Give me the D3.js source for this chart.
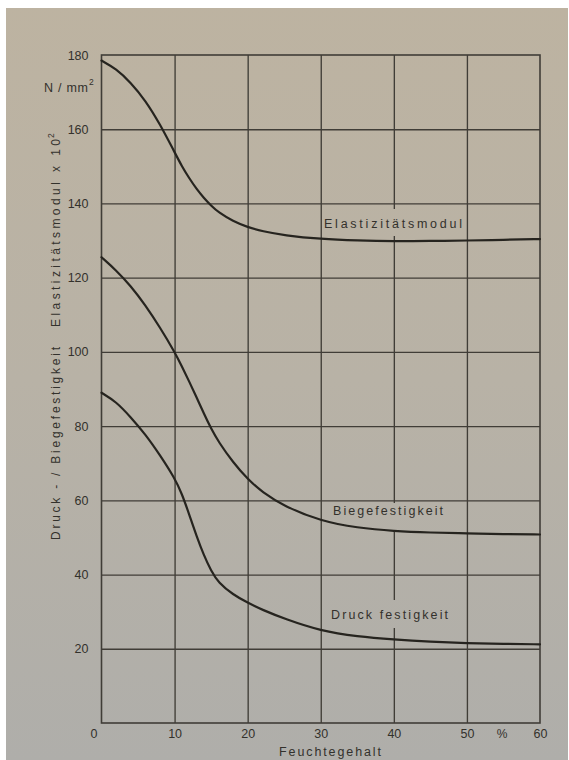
<!DOCTYPE html>
<html>
<head>
<meta charset="utf-8">
<script src="https://cdn.jsdelivr.net/npm/d3@7"></script>
<style>
  html, body { margin: 0; padding: 0; background: #ffffff; }
  svg { display: block; }
  text { font-family: "Liberation Sans", Arial, sans-serif; }
</style>
</head>
<body>
<svg id="chart" width="569" height="760"></svg>
<script>
// ---- data ----
const moisture = [0,2,4,6,8,10,11,12,13,14,15,16,18,20,22,25,30,35,40,45,50,55,60];
const eModul   = [178.5,176.3,172.6,167.8,161.4,153.8,150,146.8,143.9,141.5,139.4,137.6,135.2,133.6,132.5,131.4,130.4,130,129.8,129.9,130,130.2,130.4];
const biege    = [125.5,122,117.8,112.6,106.6,100,96.1,92,87.8,83.4,79.3,75.8,70.2,65.7,62.2,58.4,54.4,52.6,51.7,51.3,51.1,50.9,50.8];
const druck    = [89,86.6,82.4,77.8,72.2,66,61.8,56.2,50.4,45.2,41,37.8,34.6,32.4,30.5,28.1,24.8,23.3,22.5,21.9,21.5,21.3,21.2];
const xTicks = [0,10,20,30,40,50,60];
const yTicks = [20,40,60,80,100,120,140,160,180];
const seriesNames = ["Elastizitätsmodul","Biegefestigkeit","Druck festigkeit"];
const xTitle = "Feuchtegehalt";
const yTitleTop = "Elastizitätsmodul x 10";
const yTitleBottom = "Druck - / Biegefestigkeit";
const unitLabel = "N / mm";
const pctLabel = "%";

// ---- layout ----
const svg = d3.select("#chart");
const x = d3.scaleLinear().domain([0,60]).range([101.5,540]);
const y = d3.scaleLinear().domain([0,180]).range([723,55]);

const defs = svg.append("defs");
const grad = defs.append("linearGradient").attr("id","paper")
  .attr("gradientUnits","userSpaceOnUse").attr("x1",0).attr("y1",0).attr("x2",0).attr("y2",760);
grad.append("stop").attr("offset","0").attr("stop-color","#bdb3a1");
grad.append("stop").attr("offset","0.5").attr("stop-color","#b8b2a6");
grad.append("stop").attr("offset","1").attr("stop-color","#afaeaa");

svg.append("rect").attr("x",6).attr("y",8).attr("width",562).attr("height",752).attr("fill","url(#paper)");

const ink = "#33312c";
const gridColor = "#403d37";

// grid via axes
svg.append("g").attr("transform",`translate(0,${y(0)})`)
  .call(d3.axisBottom(x).tickValues(xTicks.slice(1,-1)).tickSize(-(y(0)-y(180))).tickFormat(""))
  .call(g => g.select(".domain").remove())
  .call(g => g.selectAll("line").attr("stroke",gridColor).attr("stroke-width",1.35));
svg.append("g").attr("transform",`translate(${x(0)},0)`)
  .call(d3.axisLeft(y).tickValues(yTicks.slice(0,-1)).tickSize(-(x(60)-x(0))).tickFormat(""))
  .call(g => g.select(".domain").remove())
  .call(g => g.selectAll("line").attr("stroke",gridColor).attr("stroke-width",1.35));

// frame
svg.append("rect").attr("x",x(0)).attr("y",y(180)).attr("width",x(60)-x(0)).attr("height",y(0)-y(180))
  .attr("fill","none").attr("stroke",gridColor).attr("stroke-width",1.6);

// label knockouts (paper behind curve labels)
const labelPos = [
  {name: seriesNames[0], cx: 393, cy: 223, w: 138, gapTop: 209, gapBot: 236},
  {name: seriesNames[1], cx: 388, cy: 510, w: 110, gapTop: 503, gapBot: 531},
  {name: seriesNames[2], cx: 389.5, cy: 614, w: 117, gapTop: 600, gapBot: 628}
];
svg.append("g").selectAll("rect").data(labelPos).join("rect")
  .attr("x", d => d.cx - d.w/2 + 2).attr("width", d => d.w - 4)
  .attr("y", d => d.gapTop).attr("height", d => d.gapBot - d.gapTop)
  .attr("fill","url(#paper)");

// curves
const line = d3.line().x((d,i) => x(moisture[i])).y(d => y(d)).curve(d3.curveBasis);
svg.append("g").selectAll("path").data([eModul, biege, druck]).join("path")
  .attr("d", line).attr("fill","none").attr("stroke","#26241f").attr("stroke-width",2.2)
  .attr("stroke-linecap","round");

// curve labels
svg.append("g").selectAll("text").data(labelPos).join("text")
  .attr("x", d => d.cx - d.w/2).attr("y", d => d.cy + 4.5)
  .attr("textLength", d => d.w).attr("lengthAdjust","spacing")
  .attr("font-size", 12.5).attr("fill", ink).text(d => d.name);

// y tick labels
svg.append("g").attr("transform",`translate(${x(0)},0)`)
  .call(d3.axisLeft(y).tickValues(yTicks).tickSize(0).tickPadding(13))
  .call(g => g.select(".domain").remove())
  .call(g => g.selectAll("text").attr("font-size",12.5).attr("fill",ink).attr("font-family","Liberation Sans, Arial, sans-serif"));

// x tick labels
svg.append("g").attr("transform",`translate(0,${y(0)})`)
  .call(d3.axisBottom(x).tickValues(xTicks).tickSize(0).tickPadding(6))
  .call(g => g.select(".domain").remove())
  .call(g => g.selectAll("text").attr("font-size",12.5).attr("fill",ink).attr("font-family","Liberation Sans, Arial, sans-serif")
     .attr("dx", d => d === 0 ? -8 : 0));

// % label
svg.append("text").attr("x",502).attr("y",738).attr("text-anchor","middle")
  .attr("font-size",12).attr("fill",ink).text(pctLabel);

// x title
svg.append("text").attr("x",279).attr("y",756).attr("textLength",102).attr("lengthAdjust","spacing")
  .attr("font-size",12.5).attr("fill",ink).text(xTitle);

// unit label
svg.append("text").attr("x",44).attr("y",92).attr("textLength",44).attr("lengthAdjust","spacing")
  .attr("font-size",12.5).attr("fill",ink).text(unitLabel);
svg.append("text").attr("x",89).attr("y",85).attr("font-size",8.5).attr("fill",ink).text("2");

// y titles (rotated)
const yt = svg.append("g").attr("transform","translate(55,0) rotate(-90)");
yt.append("text").attr("x",-327).attr("y",4.5).attr("textLength",188).attr("lengthAdjust","spacing")
  .attr("font-size",12).attr("fill",ink).text(yTitleTop);
yt.append("text").attr("x",-138).attr("y",-1).attr("font-size",8.5).attr("fill",ink).text("2");
yt.append("text").attr("x",-540).attr("y",4.5).attr("textLength",193).attr("lengthAdjust","spacing")
  .attr("font-size",12).attr("fill",ink).text(yTitleBottom);
</script>
</body>
</html>
